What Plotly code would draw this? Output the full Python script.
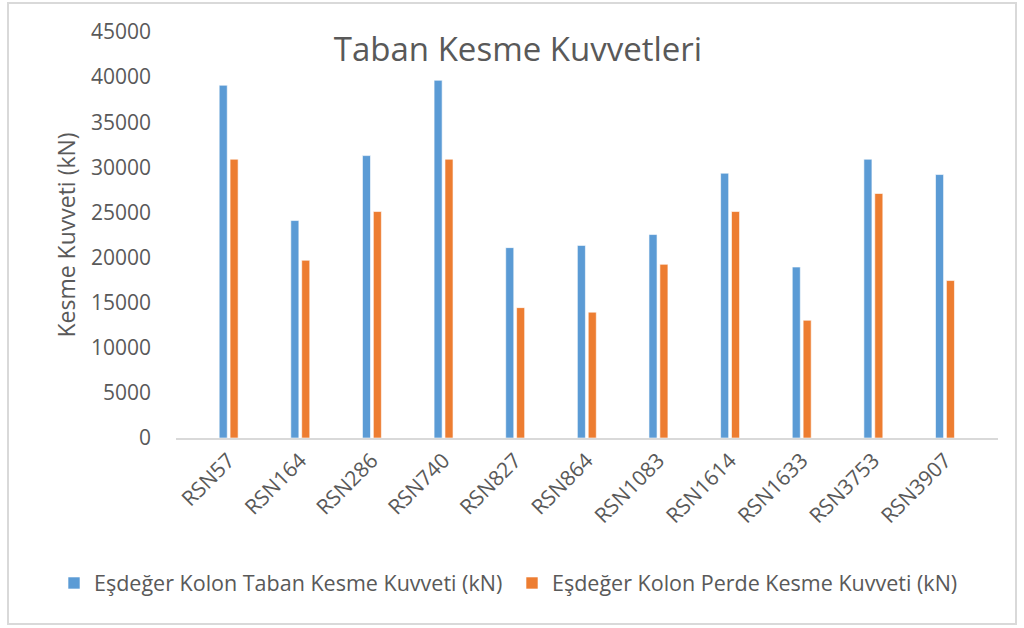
import plotly.graph_objects as go

# Earthquake records and base shear results (kN)
records = ["RSN57", "RSN164", "RSN286", "RSN740", "RSN827", "RSN864",
           "RSN1083", "RSN1614", "RSN1633", "RSN3753", "RSN3907"]
taban_kesme = [39100, 24100, 31300, 39650, 21100, 21350,
               22550, 29350, 18950, 30900, 29200]
perde_kesme = [30900, 19700, 25100, 30900, 14450, 13950,
               19250, 25100, 13050, 27100, 17450]

series_names = ["Eşdeğer Kolon Taban Kesme Kuvveti (kN)",
                "Eşdeğer Kolon Perde Kesme Kuvveti (kN)"]
series_colors = ["#5B9BD5", "#ED7D31"]
legend_ids = ["legend", "legend2"]

FONT = "Open Sans"
TEXT = "#595959"

fig = go.Figure()
for name, vals, col, lg in zip(series_names, [taban_kesme, perde_kesme],
                               series_colors, legend_ids):
    fig.add_trace(go.Bar(
        x=records, y=vals, name=name, legend=lg,
        marker=dict(color=col, line=dict(color="rgba(255,255,255,0.6)", width=1)),
    ))

# plot area: x 176..998 px, y 32..438 px
L, R, T, B = 176, 26, 32, 190
W, H = 1024, 628
pw, ph = W - L - R, H - T - B

def px_x(v):
    return (v - L) / pw

def px_y(v):
    return (H - B - v) / ph

legend_style = dict(orientation="h", xanchor="left", xref="container",
                    y=(H - 583) / H, yanchor="middle", yref="container",
                    font=dict(size=21.5, color=TEXT, family=FONT), itemwidth=30)

fig.update_layout(
    width=W, height=H,
    margin=dict(l=L, r=R, t=T, b=B),
    paper_bgcolor="white", plot_bgcolor="white",
    barmode="group", bargap=0.696, bargroupgap=0.26,
    font=dict(family=FONT, color=TEXT),
    title=dict(text="Taban Kesme Kuvvetleri", font=dict(size=33, color=TEXT, family=FONT),
               x=518 / W, xanchor="center", xref="container",
               y=(H - 49) / H, yanchor="middle", yref="container"),
    showlegend=True,
    legend=dict(x=(96 - 42) / W, **legend_style),
    legend2=dict(x=(554 - 42) / W, **legend_style),
    xaxis=dict(
        type="category", range=[-0.735, 10.74],
        showline=True, linecolor="#D9D9D9", linewidth=2,
        showgrid=False, ticks="", tickangle=-45,
        tickfont=dict(size=21, color=TEXT, family=FONT),
        fixedrange=True,
    ),
    yaxis=dict(
        range=[0, 45000], dtick=5000, tickformat="d",
        showline=False, showgrid=False, zeroline=False, ticks="",
        tickfont=dict(size=21, color=TEXT, family=FONT),
        ticklabelstandoff=24,
        title=dict(text="Kesme Kuvveti (kN)", font=dict(size=23, color=TEXT, family=FONT),
                   standoff=8),
        fixedrange=True,
    ),
    shapes=[dict(type="rect", xref="paper", yref="paper",
                 x0=px_x(8), x1=px_x(1016), y0=px_y(624), y1=px_y(3),
                 line=dict(color="#D9D9D9", width=2), fillcolor="rgba(0,0,0,0)",
                 layer="below")],
)

fig.write_html("out.html")
